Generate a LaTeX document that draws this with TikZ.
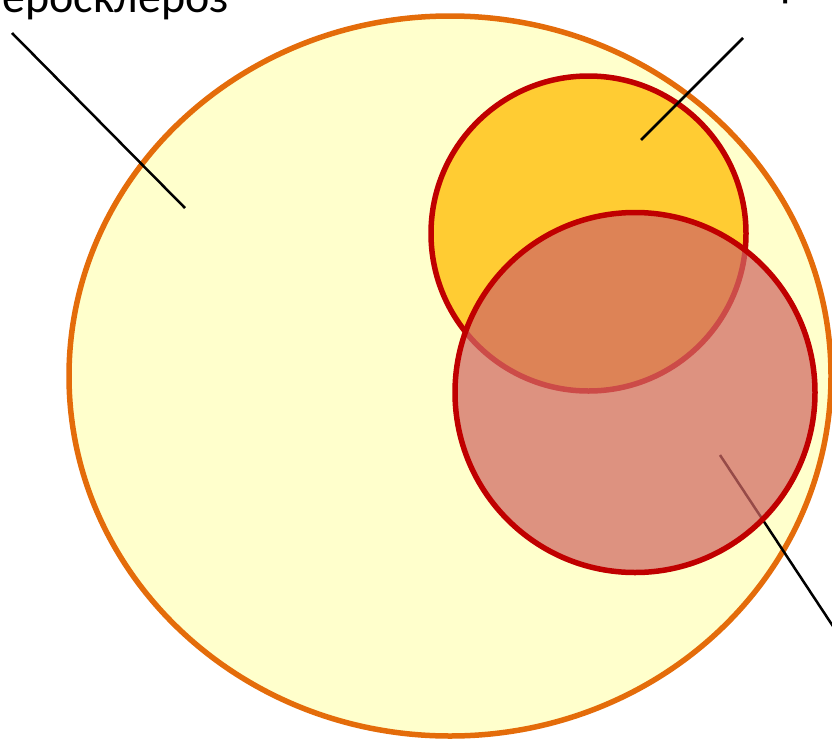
\documentclass[tikz,border=0pt]{standalone}
\usepackage{fontspec}
\setmainfont{Carlito}
\usetikzlibrary{positioning}
\definecolor{outer}{HTML}{E46C0A}
\definecolor{pale}{HTML}{FFFFCC}
\definecolor{gold}{HTML}{FFCC33}
\definecolor{deepred}{HTML}{C00000}
\definecolor{rose}{RGB}{209,104,100}
\begin{document}
\begin{tikzpicture}[x=1pt,y=-1pt,font=\fontsize{46}{50}\selectfont,
ring/.style={line width=5.5pt},lead/.style={black,line width=2.5pt},
lbl/.style={inner sep=0pt,outer sep=0pt}]
\useasboundingbox (0,0) rectangle (832,739);
\draw[ring,draw=outer,fill=pale] (450,376) ellipse [x radius=381,y radius=360];
\draw[ring,draw=deepred,fill=gold] (588.5,233.5) circle [radius=157.5];
% labels, partly outside the page
\node[lbl,anchor=base east] (ather) at (229,12.5) {Атеросклероз};
\node[lbl,anchor=base west] (hyper) at (692,-4) {Гипертония};
\coordinate (atherTail) at (12,33);
\coordinate (atherTip) at (185,208);
\coordinate (hyperTail) at (743,38);
\coordinate (hyperTip) at (641,140);
\coordinate (thirdTip) at (720,455);
\coordinate (thirdTail) at (850,652);
\draw[lead] (atherTail)--(atherTip);
\draw[lead] (hyperTail)--(hyperTip);
\draw[lead] (thirdTail)--(thirdTip);
\draw[ring,draw=deepred,fill=rose,fill opacity=0.72] (635,392.5) circle [radius=180];
\end{tikzpicture}
\end{document}
